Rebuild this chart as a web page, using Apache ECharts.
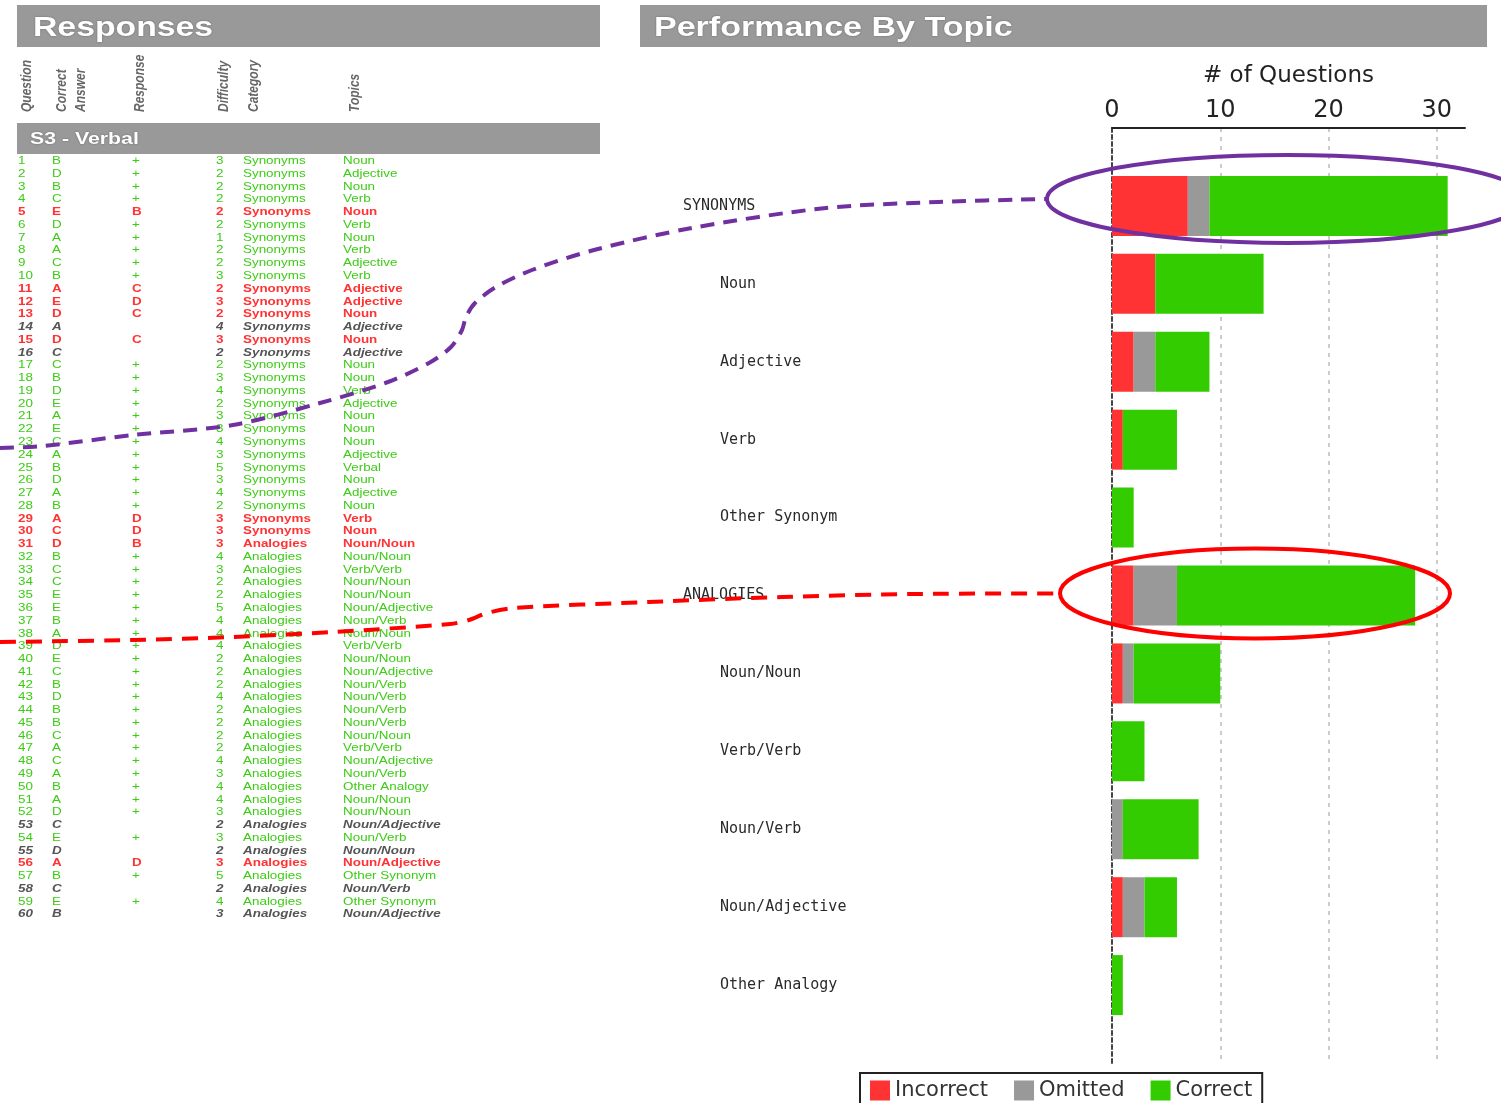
<!DOCTYPE html>
<html>
<head>
<meta charset="utf-8">
<title>Responses / Performance By Topic</title>
<script src="https://cdn.jsdelivr.net/npm/echarts@6/dist/echarts.min.js"></script>
<style>
  html, body { margin: 0; padding: 0; background: #fff; }
  #main { width: 1501px; height: 1103px; }
</style>
</head>
<body>
<div id="main"></div>
<script>
// responses table, S3 - Verbal, questions 1..60
var correctAnswers = ['B','D','B','C','E','D','A','A','C','B',
  'A','E','D','A','D','C','C','B','D','E',
  'A','E','C','A','B','D','A','B','A','C',
  'D','B','C','C','E','E','B','A','D','E',
  'C','B','D','B','B','C','A','C','A','B',
  'A','D','C','E','D','A','B','C','E','B'];
// '+' = correct, letter = wrong answer given, '' = omitted
var responses = ['+','+','+','+','B','+','+','+','+','+',
  'C','D','C','','C','','+','+','+','+',
  '+','+','+','+','+','+','+','+','D','D',
  'B','+','+','+','+','+','+','+','+','+',
  '+','+','+','+','+','+','+','+','+','+',
  '+','+','','+','','D','+','','+',''];
var difficulty = [3,2,2,2,2,2,1,2,2,3,
  2,3,2,4,3,2,2,3,4,2,
  3,3,4,3,5,3,4,2,3,3,
  3,4,3,2,2,5,4,4,4,2,
  2,2,4,2,2,2,2,4,3,4,
  4,3,2,3,2,3,5,2,4,3];
var questionCategory = ['Synonyms','Synonyms','Synonyms','Synonyms','Synonyms','Synonyms','Synonyms','Synonyms','Synonyms','Synonyms',
  'Synonyms','Synonyms','Synonyms','Synonyms','Synonyms','Synonyms','Synonyms','Synonyms','Synonyms','Synonyms',
  'Synonyms','Synonyms','Synonyms','Synonyms','Synonyms','Synonyms','Synonyms','Synonyms','Synonyms','Synonyms',
  'Analogies','Analogies','Analogies','Analogies','Analogies','Analogies','Analogies','Analogies','Analogies','Analogies',
  'Analogies','Analogies','Analogies','Analogies','Analogies','Analogies','Analogies','Analogies','Analogies','Analogies',
  'Analogies','Analogies','Analogies','Analogies','Analogies','Analogies','Analogies','Analogies','Analogies','Analogies'];
var questionTopic = ['Noun','Adjective','Noun','Verb','Noun','Verb','Noun','Verb','Adjective','Verb',
  'Adjective','Adjective','Noun','Adjective','Noun','Adjective','Noun','Noun','Verb','Adjective',
  'Noun','Noun','Noun','Adjective','Verbal','Noun','Adjective','Noun','Verb','Noun',
  'Noun/Noun','Noun/Noun','Verb/Verb','Noun/Noun','Noun/Noun','Noun/Adjective','Noun/Verb','Noun/Noun','Verb/Verb','Noun/Noun',
  'Noun/Adjective','Noun/Verb','Noun/Verb','Noun/Verb','Noun/Verb','Noun/Noun','Verb/Verb','Noun/Adjective','Noun/Verb','Other Analogy',
  'Noun/Noun','Noun/Noun','Noun/Adjective','Noun/Verb','Noun/Noun','Noun/Adjective','Other Synonym','Noun/Verb','Other Synonym','Noun/Adjective'];

// performance by topic
var topicLabels = ['SYNONYMS','Noun','Adjective','Verb','Other Synonym','ANALOGIES','Noun/Noun','Verb/Verb','Noun/Verb','Noun/Adjective','Other Analogy'];
var groupLabels = ['SYNONYMS','ANALOGIES'];
var incorrectCounts = [7,4,2,1,0,2,1,0,0,1,0];
var omittedCounts   = [2,0,2,0,0,4,1,0,1,2,0];
var correctCounts   = [22,10,5,5,2,22,8,3,7,3,1];
var legendNames = ['Incorrect','Omitted','Correct'];

var RED = '#ff3333', GREY = '#999999', GREEN = '#33cc00';

var chart = echarts.init(document.getElementById('main'));

// blank slot at each end of the topic axis
var axisCats = [' '].concat(topicLabels, ['  ']);
function pad(arr) { return ['-'].concat(arr, ['-']); }

function barSeries(name, color, values) {
  return {
    name: name,
    type: 'bar',
    stack: 'total',
    barWidth: 60,
    data: pad(values),
    itemStyle: { color: color },
    emphasis: { disabled: true }
  };
}

var option = {
  backgroundColor: '#fff',
  animation: false,
  grid: { left: 1112, right: 36, top: 128, height: 935, outerBoundsMode: 'none' },
  legend: {
    data: legendNames,
    left: 860,
    top: 1073,
    icon: 'rect',
    itemWidth: 20,
    itemHeight: 20,
    itemGap: 26,
    padding: [7, 10, 10, 10],
    borderColor: '#222',
    borderWidth: 2,
    borderRadius: 0,
    textStyle: { fontFamily: 'DejaVu Sans', fontSize: 21, color: '#333' }
  },
  xAxis: {
    type: 'value',
    position: 'top',
    min: 0,
    max: 32.6,
    interval: 10,
    name: '# of Questions',
    nameLocation: 'middle',
    nameGap: 40,
    nameTextStyle: { fontFamily: 'DejaVu Sans', fontSize: 23, color: '#222' },
    axisLine: { show: true, lineStyle: { color: '#222', width: 2 } },
    axisTick: { show: false },
    axisLabel: { fontFamily: 'DejaVu Sans', fontSize: 24, color: '#222', margin: 5, showMaxLabel: false },
    splitLine: {
      show: true,
      showMinLine: false,
      showMaxLine: false,
      lineStyle: { color: '#cccccc', width: 2, type: [4, 5] }
    }
  },
  yAxis: {
    type: 'category',
    inverse: true,
    boundaryGap: false,
    data: axisCats,
    axisLine: { show: true, lineStyle: { color: '#444', width: 2, type: [4, 3] } },
    axisTick: { show: false },
    splitLine: { show: false },
    axisLabel: {
      align: 'left',
      margin: 429,
      interval: 0,
      formatter: function (v) {
        v = v.trim();
        if (!v) return '';
        return groupLabels.indexOf(v) >= 0 ? '{grp|' + v + '}' : '{sub|' + v + '}';
      },
      rich: {
        grp: { fontFamily: 'DejaVu Sans Mono', fontSize: 15, color: '#2a2a2a' },
        sub: { fontFamily: 'DejaVu Sans Mono', fontSize: 15, color: '#2a2a2a', padding: [0, 0, 0, 37] }
      }
    }
  },
  series: [
    barSeries('Incorrect', RED, incorrectCounts),
    barSeries('Omitted', GREY, omittedCounts),
    barSeries('Correct', GREEN, correctCounts)
  ]
};
chart.setOption(option);

// ---- left panel + annotations as graphic elements ----
var g = [];

function band(x, y, w, h, text, tx, ty, fontSize, sx) {
  g.push({ type: 'rect', shape: { x: x, y: y, width: w, height: h }, style: { fill: '#999999' }, z: 5 });
  g.push({
    type: 'text', x: tx, y: ty, scaleX: sx, z: 6,
    style: {
      text: text, fill: '#ffffff', fontFamily: 'Liberation Sans', fontWeight: 'bold',
      fontSize: fontSize, verticalAlign: 'middle', align: 'left',
      textShadowColor: 'rgba(0,0,0,0.35)', textShadowBlur: 2
    }
  });
}
band(17, 5, 583, 42, 'Responses', 33, 29, 27, 1.25);
band(640, 5, 847, 42, 'Performance By Topic', 654, 29, 27, 1.26);
band(17, 123, 583, 31, 'S3 - Verbal', 30, 140, 16, 1.33);

// rotated column headers
var headers = [
  { t: 'Question', x: 19 },
  { t: 'Correct', x: 54 },
  { t: 'Answer', x: 73 },
  { t: 'Response', x: 132 },
  { t: 'Difficulty', x: 216 },
  { t: 'Category', x: 246 },
  { t: 'Topics', x: 347 }
];
headers.forEach(function (h) {
  g.push({
    type: 'text', x: h.x, y: 112, rotation: Math.PI / 2, scaleY: 1.25, z: 6,
    style: {
      text: h.t, fill: '#666', fontFamily: 'Liberation Sans', fontWeight: 'bold', fontStyle: 'italic',
      fontSize: 12, align: 'left', verticalAlign: 'top'
    }
  });
});

// table rows
var rowTop = 161, rowStep = 12.77;
var colX = [18, 52, 132, 216, 243, 343];
for (var i = 0; i < correctAnswers.length; i++) {
  var r = responses[i];
  var fill = '#3ccc14', weight = 'normal', fstyle = 'normal';
  if (r === '') { fill = '#555'; weight = 'bold'; fstyle = 'italic'; }
  else if (r !== '+') { fill = '#ff3333'; weight = 'bold'; }
  var cells = [String(i + 1), correctAnswers[i], r, String(difficulty[i]), questionCategory[i], questionTopic[i]];
  for (var c = 0; c < cells.length; c++) {
    if (!cells[c]) continue;
    g.push({
      type: 'text', x: colX[c], y: rowTop + i * rowStep, scaleX: 1.22, z: 6,
      style: {
        text: cells[c], fill: fill, fontFamily: 'Liberation Sans', fontWeight: weight, fontStyle: fstyle,
        fontSize: 11, align: 'left', verticalAlign: 'middle'
      }
    });
  }
}

// highlight ellipses anchored to the two group bars, with dashed leaders
var synPx = chart.convertToPixel({ gridIndex: 0 }, [0, 'SYNONYMS']);
var anaPx = chart.convertToPixel({ gridIndex: 0 }, [0, 'ANALOGIES']);
var purpleE = { cx: synPx[0] + 175, cy: synPx[1] - 7, rx: 240, ry: 44 };
var redE = { cx: anaPx[0] + 143, cy: anaPx[1] - 2, rx: 195, ry: 45 };

var purplePath = [[0, 448], [43, 446], [133, 435], [233, 425], [320, 403], [388, 382], [429, 363], [451, 347],
  [462, 330], [466, 317], [475, 303], [496, 287], [532, 270], [594, 250], [692, 228], [826, 208], [938, 202],
  [purpleE.cx - purpleE.rx, purpleE.cy]];
var redPath = [[0, 642], [133, 640], [233, 637], [333, 632], [450, 624], [469, 620], [487, 613], [514, 608],
  [648, 602], [782, 597], [916, 594], [redE.cx - redE.rx, redE.cy]];

g.push({ type: 'polyline', z: 50, shape: { points: purplePath, smooth: 0.3 },
  style: { stroke: '#7030a0', lineWidth: 4, lineDash: [14, 9], fill: null } });
g.push({ type: 'polyline', z: 50, shape: { points: redPath, smooth: 0.3 },
  style: { stroke: '#ff0000', lineWidth: 4, lineDash: [16, 10], fill: null } });
g.push({ type: 'ellipse', z: 50, shape: purpleE, style: { stroke: '#7030a0', lineWidth: 4, fill: null } });
g.push({ type: 'ellipse', z: 50, shape: redE, style: { stroke: '#ff0000', lineWidth: 4, fill: null } });

chart.setOption({ graphic: g });
</script>
</body>
</html>
